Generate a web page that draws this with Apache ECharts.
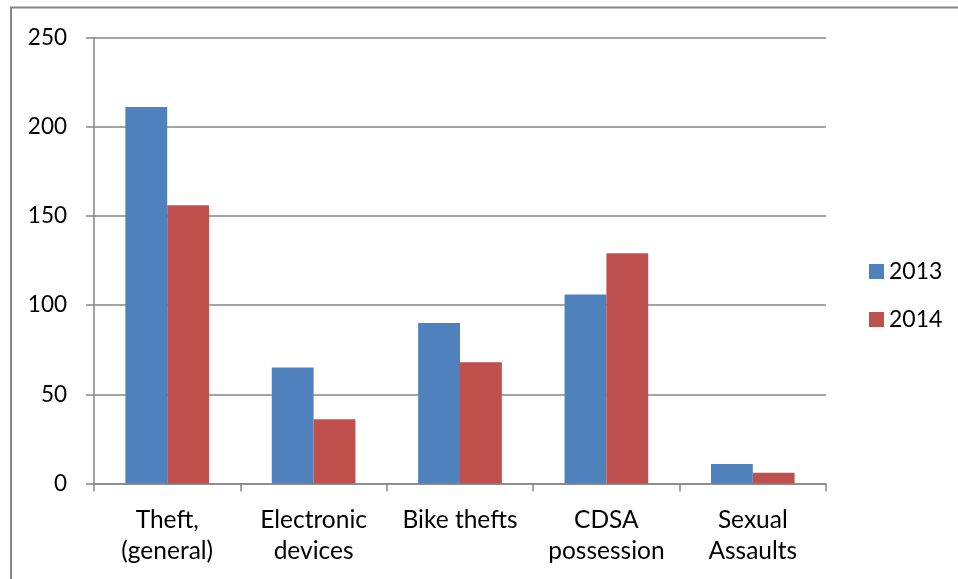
<!DOCTYPE html>
<html>
<head>
<meta charset="utf-8">
<script src="https://cdn.jsdelivr.net/npm/echarts@6/dist/echarts.min.js"></script>
<style>
  html, body { margin: 0; padding: 0; background: #fff; }
  #chart { width: 958px; height: 579px; }
</style>
</head>
<body>
<div id="chart"></div>
<script>
// Offence categories and yearly counts
const categories = ['Theft,\n(general)', 'Electronic\ndevices', 'Bike thefts', 'CDSA\npossession', 'Sexual\nAssaults'];
const seriesNames = ['2013', '2014'];
const values2013 = [211, 65, 90, 106, 11];
const values2014 = [156, 36, 68, 129, 6];
const yTicks = { min: 0, max: 250, interval: 50 };

const FONT = 'Lato, "Open Sans", sans-serif';
const AXIS_GRAY = '#868686';

const chart = echarts.init(document.getElementById('chart'), null, { renderer: 'canvas' });

chart.setOption({
  animation: false,
  backgroundColor: '#ffffff',
  textStyle: { fontFamily: FONT },
  graphic: [{
    // outer chart frame (top and left edges visible)
    type: 'rect',
    shape: { x: 11, y: 7.5, width: 1000, height: 700 },
    style: { fill: null, stroke: AXIS_GRAY, lineWidth: 2 },
    silent: true
  }],
  grid: { left: 94, right: 132, top: 37.5, bottom: 95.5, containLabel: false },
  legend: {
    orient: 'vertical',
    left: 869,
    top: 260,
    padding: 0,
    itemWidth: 15,
    itemHeight: 15,
    itemGap: 25,
    icon: 'rect',
    textStyle: { fontFamily: FONT, fontSize: 23, color: '#000' },
    data: seriesNames
  },
  xAxis: {
    type: 'category',
    data: categories,
    axisLine: { lineStyle: { color: AXIS_GRAY, width: 1.5 } },
    axisTick: { show: true, length: 8, inside: false, lineStyle: { color: AXIS_GRAY, width: 1.5 } },
    axisLabel: { color: '#000', fontSize: 24.5, fontFamily: FONT, margin: 21, lineHeight: 31, interval: 0 },
    splitLine: { show: false }
  },
  yAxis: {
    type: 'value',
    min: yTicks.min,
    max: yTicks.max,
    interval: yTicks.interval,
    axisLine: { show: true, lineStyle: { color: AXIS_GRAY, width: 1.5 } },
    axisTick: { show: true, length: 8, lineStyle: { color: AXIS_GRAY, width: 1.5 } },
    axisLabel: { color: '#000', fontSize: 22.5, fontFamily: FONT, margin: 27 },
    splitLine: { show: true, lineStyle: { color: AXIS_GRAY, width: 1.5 } }
  },
  series: [
    {
      name: seriesNames[0],
      type: 'bar',
      data: values2013,
      itemStyle: { color: '#4f81bd' },
      barGap: '0%',
      barCategoryGap: '42.86%'
    },
    {
      name: seriesNames[1],
      type: 'bar',
      data: values2014,
      itemStyle: { color: '#c0504d' },
      barGap: '0%',
      barCategoryGap: '42.86%'
    }
  ]
});
</script>
</body>
</html>
